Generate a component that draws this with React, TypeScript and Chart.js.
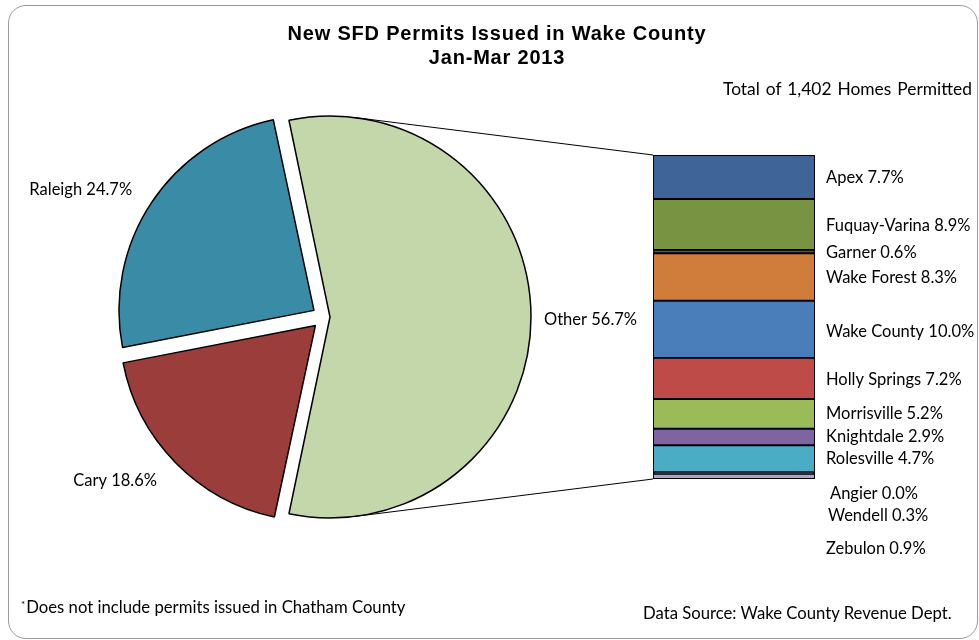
import React, { useEffect, useRef } from "react";
import { Chart, registerables } from "chart.js";

Chart.register(...registerables);

// ---------- data ----------
const pieLabels = ["Other", "Cary", "Raleigh"];
const pieValues = [56.7, 18.6, 24.7];
const pieColors = ["#C4D7AB", "#9B3D3B", "#3A8BA6"];

const barLabels = [
  "Apex",
  "Fuquay-Varina",
  "Garner",
  "Wake Forest",
  "Wake County",
  "Holly Springs",
  "Morrisville",
  "Knightdale",
  "Rolesville",
  "Angier",
  "Wendell",
  "Zebulon",
];
const barValues = [7.7, 8.9, 0.6, 8.3, 10.0, 7.2, 5.2, 2.9, 4.7, 0.0, 0.3, 0.9];
const barColors = [
  "#3F6598",
  "#789442",
  "#604A7B",
  "#D07C3A",
  "#4A7EBB",
  "#BE4B48",
  "#9BBB59",
  "#8064A2",
  "#4BACC6",
  "#F79646",
  "#1F3864",
  "#B3A2C7",
];

const titleLines = ["New SFD Permits Issued in Wake County", "Jan-Mar 2013"];
const subtitle = "Total of 1,402 Homes Permitted";
const footnote = "Does not include permits issued in Chatham County";
const sourceNote = "Data Source: Wake County Revenue Dept.";

// ---------- layout / style ----------
const W = 979;
const H = 640;
const PIE_CX = 324;
const PIE_CY = 317;
const PIE_RADIUS = 195;
const PIE_OFFSETS = [24, 48, 48];
const PIE_LABEL_DIST = [220, 234, 230];
const PIE_LABEL_DY = [3, 0, 0];
const BAR_LEFT = 653;
const BAR_RIGHT = 815;
const BAR_TOP = 155;
const BAR_BOTTOM = 479;
const BAR_LABEL_DX = [0, 0, 0, 0, 0, 0, 0, 0, 0, 4, 2, 0];
const BAR_LABEL_DY = [1, 1, 1, 1, 2, 1, 0, 0, 0, 22, 43, 72];
const LABEL_FONT = "16.5px Lato";

export default function App() {
  const pieRef = useRef<HTMLCanvasElement>(null);
  const barRef = useRef<HTMLCanvasElement>(null);

  useEffect(() => {
    const total = pieValues.reduce((a, b) => a + b, 0);
    const rotation = 90 - (pieValues[0] / total) * 180;

    const pieLabelPlugin = {
      id: "pieLabels",
      afterDatasetsDraw(chart: any) {
        const ctx = chart.ctx;
        const meta = chart.getDatasetMeta(0);
        const area = chart.chartArea;
        const cx = (area.left + area.right) / 2;
        const cy = (area.top + area.bottom) / 2;
        ctx.save();
        ctx.font = LABEL_FONT;
        ctx.fillStyle = "#000";
        ctx.textBaseline = "middle";
        meta.data.forEach((arc: any, i: number) => {
          const mid = (arc.startAngle + arc.endAngle) / 2;
          const dx = Math.cos(mid);
          const dy = Math.sin(mid);
          const d = PIE_LABEL_DIST[i];
          ctx.textAlign = dx < -0.2 ? "right" : dx > 0.2 ? "left" : "center";
          ctx.fillText(
            `${pieLabels[i]} ${pieValues[i].toFixed(1)}%`,
            cx + dx * d,
            cy + dy * d + PIE_LABEL_DY[i]
          );
        });
        ctx.restore();
      },
    };

    const pie = new Chart(pieRef.current as HTMLCanvasElement, {
      type: "pie",
      data: {
        labels: pieLabels,
        datasets: [
          {
            data: pieValues,
            backgroundColor: pieColors,
            borderColor: "#000",
            borderWidth: 1.5,
            offset: PIE_OFFSETS,
            hoverOffset: 0,
          } as any,
        ],
      },
      options: {
        responsive: false,
        animation: false,
        events: [],
        rotation,
        radius: PIE_RADIUS,
        layout: {
          padding: {
            left: 0,
            top: 0,
            right: W - 2 * PIE_CX,
            bottom: H - 2 * PIE_CY,
          },
        },
        plugins: { legend: { display: false }, tooltip: { enabled: false } },
      } as any,
      plugins: [pieLabelPlugin],
    });

    const barLabelPlugin = {
      id: "barLabels",
      afterDatasetsDraw(chart: any) {
        const ctx = chart.ctx;
        ctx.save();
        ctx.font = LABEL_FONT;
        ctx.fillStyle = "#000";
        ctx.textBaseline = "middle";
        ctx.textAlign = "left";
        chart.data.datasets.forEach((_ds: any, i: number) => {
          const el = chart.getDatasetMeta(i).data[0];
          const yc = (el.y + el.base) / 2;
          const xr = el.x + el.width / 2;
          ctx.fillText(
            `${barLabels[i]} ${barValues[i].toFixed(1)}%`,
            xr + 11 + BAR_LABEL_DX[i],
            yc + BAR_LABEL_DY[i]
          );
        });
        ctx.restore();
      },
    };

    const connectorPlugin = {
      id: "connectors",
      afterDatasetsDraw(chart: any) {
        const arc: any = pie.getDatasetMeta(0).data[0];
        if (!arc) return;
        const shift = (arc.options.offset || 0) / 4;
        const mid = (arc.startAngle + arc.endAngle) / 2;
        const cx = arc.x + Math.cos(mid) * shift;
        const cy = arc.y + Math.sin(mid) * shift;
        const r = arc.outerRadius + shift;
        let top = Infinity;
        let bottom = -Infinity;
        let left = Infinity;
        chart.data.datasets.forEach((_ds: any, i: number) => {
          const el = chart.getDatasetMeta(i).data[0];
          top = Math.min(top, el.y, el.base);
          bottom = Math.max(bottom, el.y, el.base);
          left = Math.min(left, el.x - el.width / 2);
        });
        const tangent = (px: number, py: number, sign: number) => {
          const dx = px - cx;
          const dy = py - cy;
          const d = Math.hypot(dx, dy);
          const th = Math.atan2(dy, dx);
          const a = Math.acos(r / d);
          const ang = th + sign * a;
          return [cx + r * Math.cos(ang), cy + r * Math.sin(ang)];
        };
        const t1 = tangent(left, top, -1);
        const t2 = tangent(left, bottom, 1);
        const ctx = chart.ctx;
        ctx.save();
        ctx.strokeStyle = "#000";
        ctx.lineWidth = 1;
        ctx.beginPath();
        ctx.moveTo(t1[0], t1[1]);
        ctx.lineTo(left, top);
        ctx.moveTo(t2[0], t2[1]);
        ctx.lineTo(left, bottom);
        ctx.stroke();
        ctx.restore();
      },
    };

    const barSum = barValues.reduce((a, b) => a + b, 0);

    const bar = new Chart(barRef.current as HTMLCanvasElement, {
      type: "bar",
      data: {
        labels: ["Other"],
        datasets: barLabels.map((name, i) => ({
          label: name,
          data: [barValues[i]],
          backgroundColor: barColors[i],
          borderColor: "#000",
          borderWidth: 1.3,
          borderSkipped: false,
          barPercentage: 1,
          categoryPercentage: 1,
        })),
      },
      options: {
        responsive: false,
        animation: false,
        events: [],
        layout: {
          padding: {
            left: BAR_LEFT,
            right: W - BAR_RIGHT,
            top: BAR_TOP,
            bottom: H - BAR_BOTTOM,
          },
        },
        scales: {
          x: { stacked: true, display: false },
          y: {
            stacked: true,
            display: false,
            reverse: true,
            min: 0,
            max: barSum,
          },
        },
        plugins: { legend: { display: false }, tooltip: { enabled: false } },
      } as any,
      plugins: [barLabelPlugin, connectorPlugin],
    });

    return () => {
      bar.destroy();
      pie.destroy();
    };
  }, []);

  const calibri: React.CSSProperties = {
    position: "absolute",
    fontFamily: "Lato, 'Open Sans', sans-serif",
    fontSize: 16.7,
    lineHeight: "20px",
    color: "#000",
    whiteSpace: "nowrap",
  };

  return (
    <div
      style={{
        position: "fixed",
        left: 0,
        top: 0,
        width: W,
        height: H,
        background: "#fff",
        overflow: "hidden",
      }}
    >
      <div
        style={{
          position: "absolute",
          left: 8,
          top: 5,
          width: 970,
          height: 634,
          border: "1.5px solid #9a9a9a",
          borderRadius: 18,
          boxSizing: "border-box",
        }}
      />
      <canvas
        ref={pieRef}
        width={W}
        height={H}
        style={{ position: "absolute", left: 0, top: 0, width: W, height: H }}
      />
      <canvas
        ref={barRef}
        width={W}
        height={H}
        style={{ position: "absolute", left: 0, top: 0, width: W, height: H }}
      />
      {titleLines.map((t, i) => (
        <div
          key={t}
          style={{
            position: "absolute",
            left: 497,
            top: 21 + i * 24,
            transform: "translateX(-50%)",
            fontFamily: "'Liberation Sans', Arial, sans-serif",
            fontWeight: "bold",
            fontSize: 20,
            lineHeight: "24px",
            letterSpacing: "0.8px",
            whiteSpace: "nowrap",
            color: "#000",
          }}
        >
          {t}
        </div>
      ))}
      <div
        style={{
          ...calibri,
          fontSize: 17.4,
          wordSpacing: "1.5px",
          right: W - 972,
          top: 79,
        }}
      >
        {subtitle}
      </div>
      <div style={{ ...calibri, left: 21, top: 597 }}>
        <span
          style={{
            fontSize: 10,
            position: "relative",
            top: -5,
            marginRight: 1,
          }}
        >
          *
        </span>
        {footnote}
      </div>
      <div style={{ ...calibri, left: 643, top: 603 }}>{sourceNote}</div>
    </div>
  );
}
